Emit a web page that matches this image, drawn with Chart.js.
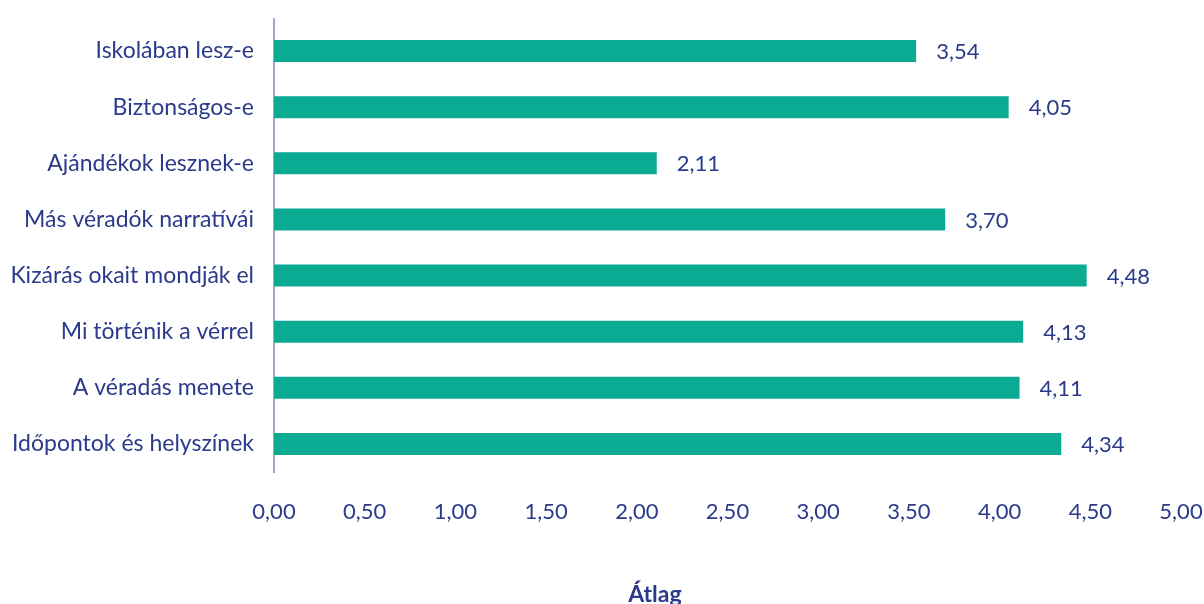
<!DOCTYPE html>
<html>
<head>
<meta charset="utf-8">
<script src="https://cdn.jsdelivr.net/npm/chart.js@4.4.1/dist/chart.umd.min.js"></script>
<style>
html,body{margin:0;padding:0;background:#fff;}
#wrap{width:1204px;height:604px;position:relative;}
</style>
</head>
<body>
<div id="wrap"><canvas id="c" width="1204" height="604"></canvas></div>
<script>
const categories = [
  "Iskolában lesz-e",
  "Biztonságos-e",
  "Ajándékok lesznek-e",
  "Más véradók narratívái",
  "Kizárás okait mondják el",
  "Mi történik a vérrel",
  "A véradás menete",
  "Időpontok és helyszínek"
];
const values = [3.54, 4.05, 2.11, 3.70, 4.48, 4.13, 4.11, 4.34];
const axisTitle = "Átlag";
const xMin = 0, xMax = 5, xStep = 0.5;

const textColor = "#2b3a8a";
const barColor = "#0bab93";
const axisColor = "#a0a4c8";
const fontFamily = "Lato, 'Open Sans', sans-serif";

function fmt(v){ return Number(v).toFixed(2).replace('.', ','); }

const valueLabels = {
  id: 'valueLabels',
  afterDatasetsDraw(chart){
    const ctx = chart.ctx;
    const meta = chart.getDatasetMeta(0);
    ctx.save();
    ctx.fillStyle = textColor;
    ctx.font = "22px " + fontFamily;
    ctx.textAlign = 'left';
    ctx.textBaseline = 'middle';
    meta.data.forEach((bar, i) => {
      ctx.fillText(fmt(values[i]), bar.x + 20, bar.y + 1);
    });
    ctx.restore();
  }
};

// axis line slightly overshooting the top of the plot, as in the reference
const axisExtend = {
  id: 'axisExtend',
  afterDraw(chart){
    const ctx = chart.ctx;
    const a = chart.chartArea;
    ctx.save();
    ctx.strokeStyle = axisColor;
    ctx.lineWidth = 2;
    ctx.beginPath();
    ctx.moveTo(a.left, a.top - 5);
    ctx.lineTo(a.left, a.top);
    ctx.stroke();
    ctx.restore();
  }
};

const bottomTitle = {
  id: 'bottomTitle',
  afterDraw(chart){
    const ctx = chart.ctx;
    const a = chart.chartArea;
    ctx.save();
    ctx.fillStyle = textColor;
    ctx.font = "bold 23px " + fontFamily;
    ctx.textAlign = 'center';
    ctx.textBaseline = 'alphabetic';
    ctx.fillText(axisTitle, a.left + (a.right - a.left) * 0.42, 602);
    ctx.restore();
  }
};

new Chart(document.getElementById('c'), {
  type: 'bar',
  data: {
    labels: categories,
    datasets: [{
      data: values,
      backgroundColor: barColor,
      borderWidth: 0,
      barPercentage: 0.78,
      categoryPercentage: 0.5
    }]
  },
  options: {
    indexAxis: 'y',
    responsive: false,
    animation: false,
    layout: { padding: { top: 23, bottom: 76, left: 0, right: 0 } },
    plugins: { legend: { display: false }, tooltip: { enabled: false } },
    scales: {
      x: {
        min: xMin, max: xMax,
        grid: { display: false, drawTicks: false },
        border: { display: false },
        ticks: {
          stepSize: xStep,
          maxRotation: 0,
          color: textColor,
          font: { family: fontFamily, size: 22 },
          padding: 27,
          callback: (v) => fmt(v)
        },
        afterFit(scale){
          scale.height = 56;
          scale.paddingLeft = 0;
          scale.paddingRight = 23;
        }
      },
      y: {
        grid: { display: false, drawTicks: false },
        border: { display: true, color: axisColor, width: 2 },
        ticks: {
          color: textColor,
          font: { family: fontFamily, size: 23 },
          padding: 20
        },
        afterFit(scale){
          scale.width = 274;
          scale.paddingTop = 0;
          scale.paddingBottom = 0;
        }
      }
    }
  },
  plugins: [valueLabels, axisExtend, bottomTitle]
});
</script>
</body>
</html>
